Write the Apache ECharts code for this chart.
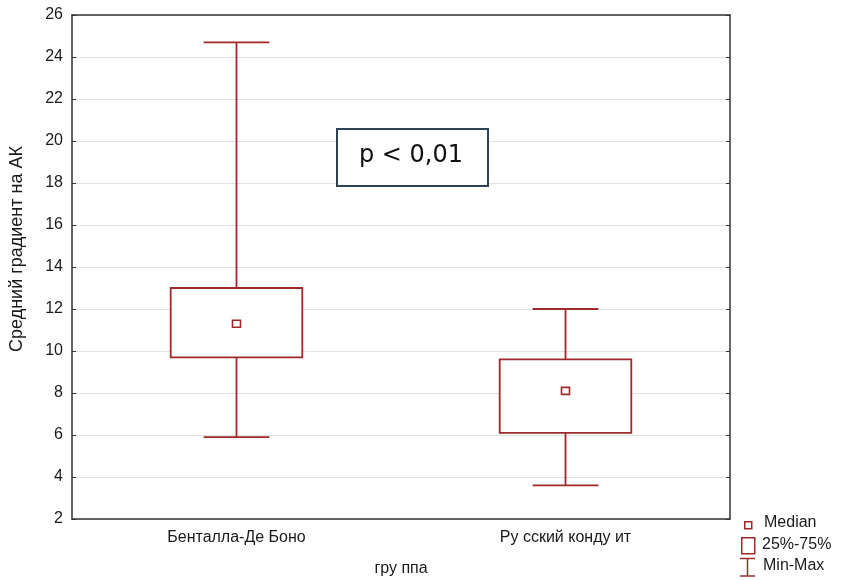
<!DOCTYPE html>
<html>
<head>
<meta charset="utf-8">
<script src="https://cdn.jsdelivr.net/npm/echarts@6/dist/echarts.min.js"></script>
<style>
  html, body { margin: 0; padding: 0; background: #fff; }
  #chart { width: 842px; height: 580px; }
</style>
</head>
<body>
<div id="chart"></div>
<script>
  // группы и статистики (min, 25%, медиана, 75%, max)
  const categories = ['Бенталла-Де Боно', 'Ру сский конду ит'];
  const minValues = [5.9, 3.6];
  const q1Values = [9.7, 6.1];
  const medianValues = [11.3, 8.1];
  const q3Values = [13.0, 9.6];
  const maxValues = [24.7, 12.0];
  const yMin = 2;
  const yMax = 26;
  const yStep = 2;

  const boxColor = '#9e2a2b';
  const textColor = '#1a1a1a';
  const font = 'Liberation Sans, Arial, sans-serif';

  const rows = categories.map((c, i) => [
    i, minValues[i], q1Values[i], medianValues[i], q3Values[i], maxValues[i],
  ]);

  const chart = echarts.init(document.getElementById('chart'));

  const option = {
    animation: false,
    backgroundColor: '#fff',
    grid: { left: 72, right: 112, top: 15, bottom: 61, containLabel: false, outerBoundsMode: 'none' },
    xAxis: [
      {
        type: 'category',
        data: categories,
        axisLine: { lineStyle: { color: '#333', width: 1.5 } },
        axisTick: { inside: true, alignWithLabel: true, length: 4, lineStyle: { color: '#333' } },
        axisLabel: { color: textColor, fontSize: 16, fontFamily: font, margin: 11 },
        name: 'гру ппа',
        nameLocation: 'middle',
        nameGap: 42,
        nameTextStyle: { color: textColor, fontSize: 16, fontFamily: font },
      },
      {
        type: 'category',
        data: categories,
        position: 'top',
        axisLine: { lineStyle: { color: '#333', width: 1.5 } },
        axisTick: { inside: true, alignWithLabel: true, length: 4, lineStyle: { color: '#333' } },
        axisLabel: { show: false },
      },
    ],
    yAxis: [
      {
        type: 'value',
        min: yMin,
        max: yMax,
        interval: yStep,
        axisLine: { show: true, lineStyle: { color: '#333', width: 1.5 } },
        axisTick: { show: true, inside: true, length: 4, lineStyle: { color: '#333' } },
        axisLabel: { color: textColor, fontSize: 16, fontFamily: font, margin: 9 },
        splitLine: { lineStyle: { color: '#e2e2e2', width: 1 } },
        name: 'Средний градиент на АК',
        nameLocation: 'middle',
        nameGap: 46,
        nameTextStyle: { color: textColor, fontSize: 18, fontFamily: font, padding: [0, 0, 0, 36] },
      },
      {
        type: 'value',
        min: yMin,
        max: yMax,
        interval: yStep,
        position: 'right',
        axisLine: { show: true, lineStyle: { color: '#333', width: 1.5 } },
        axisTick: { show: true, inside: true, length: 4, lineStyle: { color: '#333' } },
        axisLabel: { show: false },
        splitLine: { show: false },
      },
    ],
    series: [
      {
        name: 'Min-Max',
        type: 'custom',
        data: rows,
        encode: { x: 0, y: [1, 5] },
        renderItem: (params, api) => {
          const idx = api.value(0);
          const band = api.size([1, 0])[0];
          const capHalf = band * 0.1;
          const pMin = api.coord([idx, api.value(1)]);
          const pQ1 = api.coord([idx, api.value(2)]);
          const pQ3 = api.coord([idx, api.value(4)]);
          const pMax = api.coord([idx, api.value(5)]);
          const style = { stroke: boxColor, lineWidth: 1.8, fill: null };
          return {
            type: 'group',
            children: [
              { type: 'line', shape: { x1: pMin[0], y1: pMin[1], x2: pQ1[0], y2: pQ1[1] }, style },
              { type: 'line', shape: { x1: pQ3[0], y1: pQ3[1], x2: pMax[0], y2: pMax[1] }, style },
              { type: 'line', shape: { x1: pMin[0] - capHalf, y1: pMin[1], x2: pMin[0] + capHalf, y2: pMin[1] }, style },
              { type: 'line', shape: { x1: pMax[0] - capHalf, y1: pMax[1], x2: pMax[0] + capHalf, y2: pMax[1] }, style },
            ],
          };
        },
      },
      {
        name: '25%-75%',
        type: 'custom',
        data: rows,
        encode: { x: 0, y: [2, 4] },
        renderItem: (params, api) => {
          const idx = api.value(0);
          const band = api.size([1, 0])[0];
          const half = band * 0.2;
          const pQ1 = api.coord([idx, api.value(2)]);
          const pQ3 = api.coord([idx, api.value(4)]);
          return {
            type: 'rect',
            shape: { x: pQ3[0] - half, y: pQ3[1], width: half * 2, height: pQ1[1] - pQ3[1] },
            style: { stroke: boxColor, lineWidth: 1.8, fill: '#fff' },
          };
        },
      },
      {
        name: 'Median',
        type: 'custom',
        data: rows,
        encode: { x: 0, y: 3 },
        renderItem: (params, api) => {
          const idx = api.value(0);
          const p = api.coord([idx, api.value(3)]);
          return {
            type: 'rect',
            shape: { x: p[0] - 4, y: p[1] - 3.5, width: 8, height: 7 },
            style: { stroke: boxColor, lineWidth: 1.6, fill: '#fff' },
          };
        },
      },
    ],
    graphic: [
      // p-value box
      {
        type: 'rect',
        z: 100,
        left: 336,
        top: 128,
        shape: { width: 151, height: 57 },
        style: { fill: '#fff', stroke: '#2b4257', lineWidth: 2 },
      },
      {
        type: 'text',
        z: 101,
        left: 359,
        top: 144,
        style: { text: 'p < 0,01', font: '24px "DejaVu Sans", sans-serif', fill: '#111' },
      },
      // legend
      {
        type: 'rect',
        z: 100,
        left: 744,
        top: 521,
        shape: { width: 7, height: 7 },
        style: { fill: '#fff', stroke: boxColor, lineWidth: 1.5 },
      },
      {
        type: 'text',
        z: 100,
        left: 764,
        top: 515,
        style: { text: 'Median', font: '16px ' + font, fill: textColor },
      },
      {
        type: 'rect',
        z: 100,
        left: 741,
        top: 537,
        shape: { width: 13, height: 16 },
        style: { fill: '#fff', stroke: boxColor, lineWidth: 1.5 },
      },
      {
        type: 'text',
        z: 100,
        left: 762,
        top: 537,
        style: { text: '25%-75%', font: '16px ' + font, fill: textColor },
      },
      {
        type: 'polyline',
        z: 100,
        shape: { points: [[740, 558.5], [755, 558.5]] },
        style: { stroke: boxColor, lineWidth: 1.5 },
      },
      {
        type: 'polyline',
        z: 100,
        shape: { points: [[747.5, 558.5], [747.5, 576]] },
        style: { stroke: boxColor, lineWidth: 1.5 },
      },
      {
        type: 'polyline',
        z: 100,
        shape: { points: [[740, 576], [755, 576]] },
        style: { stroke: boxColor, lineWidth: 1.5 },
      },
      {
        type: 'text',
        z: 100,
        left: 763,
        top: 558,
        style: { text: 'Min-Max', font: '16px ' + font, fill: textColor },
      },
    ],
  };

  chart.setOption(option);
</script>
</body>
</html>
